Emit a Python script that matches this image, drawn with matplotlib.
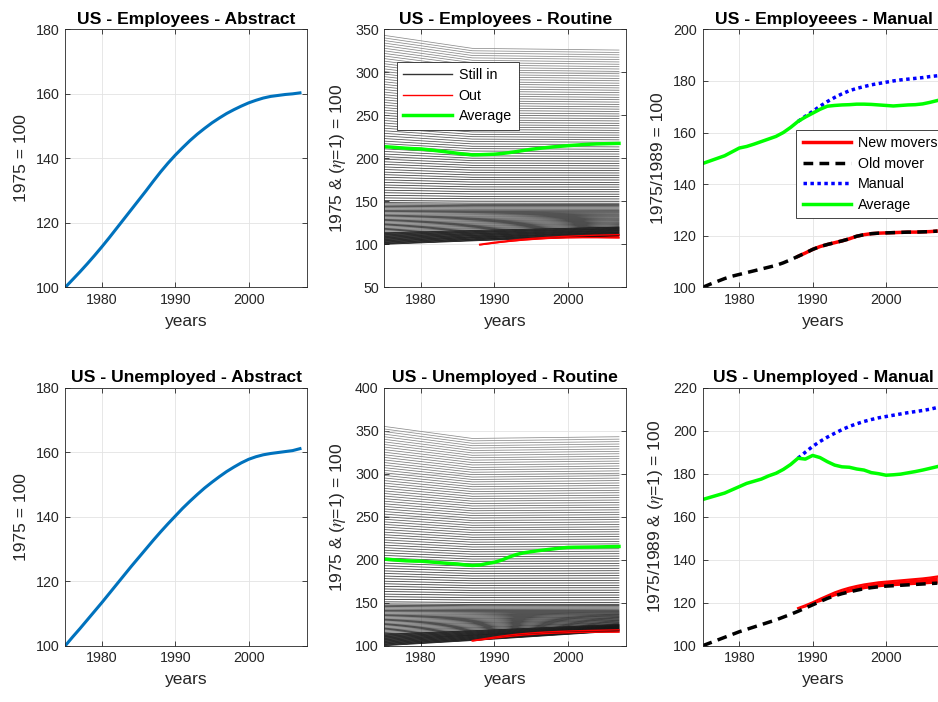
import numpy as np
import matplotlib.pyplot as plt
from matplotlib.lines import Line2D

plt.rcParams['font.family'] = ['Liberation Sans', 'DejaVu Sans']
plt.rcParams['mathtext.fontset'] = 'stix'

# ---------------- data ----------------
years = np.arange(1975, 2008)
years_new = np.arange(1988, 2008)
years_out_emp = np.arange(1988, 2008)
years_out_unemp = np.arange(1987, 2008)
kink_years = [1975, 1987, 2007]

abstract_emp = [100, 102.4, 104.8, 107.3, 109.9, 112.6, 115.4, 118.3, 121.2, 124.1, 127, 129.9,
                132.9, 135.8, 138.5, 141, 143.3, 145.5, 147.5, 149.3, 151, 152.5, 153.9, 155.1,
                156.2, 157.2, 158, 158.7, 159.2, 159.5, 159.8, 160, 160.3]
abstract_unemp = [100, 102.7, 105.3, 108, 110.7, 113.4, 116.2, 119, 121.8, 124.6, 127.3, 130, 132.7,
                  135.3, 137.8, 140.2, 142.6, 144.8, 146.9, 148.9, 150.7, 152.4, 154, 155.4, 156.7,
                  157.8, 158.6, 159.2, 159.6, 159.9, 160.2, 160.5, 161.1]

# routine, "still in" lines: level in 1975, 1987 and 2007, one entry per eta
still_emp_1975 = [
    100, 100.7, 101.4, 102.1, 102.8, 103.5, 104.2, 104.9, 105.6, 106.3, 107, 107.7, 108.4, 109.1,
    109.8, 110.5, 111.2, 111.9, 112.6, 113.3, 114, 115.5, 117, 118.5, 120, 121.5, 123, 124.5, 126,
    127.5, 129, 130.5, 132, 133.5, 135, 136.5, 138, 139.5, 141, 142.5, 144, 145.5, 147, 148.5,
    151, 154, 157, 160, 163, 166, 169, 172, 175, 178, 181, 184, 187, 190, 193, 196, 199, 202, 205,
    208, 211, 214, 217, 220, 223, 226, 229, 232, 235, 238, 241, 244, 247, 250, 253, 256, 259, 262,
    265, 268, 271, 274, 277, 280, 283, 286, 289, 292, 295, 298, 301, 304, 307, 310, 313, 316, 319,
    322, 325, 328, 331, 334, 337, 340, 343]
still_emp_1987 = [
    104, 104.6, 105.3, 105.9, 106.5, 107.2, 107.8, 108.4, 109, 109.7, 110.3, 110.9, 111.6, 112.2,
    112.8, 113.5, 114.1, 114.7, 115.3, 116, 116.6, 118, 119.3, 120.7, 122, 123.4, 124.7, 126.1,
    127.4, 128.8, 130.1, 131.5, 132.8, 134.2, 135.5, 136.9, 138.2, 139.6, 140.9, 142.3, 143.7,
    145.1, 146.5, 147.9,
    150.2, 153, 155.7, 158.5, 161.3, 164.1, 166.8, 169.6, 172.4, 175.2, 177.9, 180.7, 183.5, 186.3,
    189.1, 191.8, 194.6, 197.4, 200.2, 202.9, 205.7, 208.5, 211.3, 214, 216.8, 219.6, 222.4, 225.2,
    227.9, 230.7, 233.5, 236.3, 239, 241.8, 244.6, 247.4, 250.2, 252.9, 255.7, 258.5, 261.3, 264,
    266.8, 269.6, 272.4, 275.1, 277.9, 280.7, 283.5, 286.3, 289, 291.8, 294.6, 297.4, 300.1,
    302.9, 305.7, 308.5, 311.3, 314, 316.8, 319.6, 322.4, 325.1, 327.9]
still_emp_2007 = [
    110, 110.5, 111.1, 111.6, 112.1, 112.6, 113.2, 113.7, 114.2, 114.7, 115.3, 115.8, 116.3, 116.8,
    117.4, 117.9, 118.4, 118.9, 119.5, 120, 120.5, 121.6, 122.8, 123.9, 125, 126.1, 127.3, 128.4,
    129.5, 130.6, 131.8, 132.9, 134, 135.1, 136.3, 137.4, 138.5, 139.6, 140.9, 142.3, 143.7,
    145, 146.4, 147.8,
    150.1, 152.8, 155.6, 158.3, 161.1, 163.8, 166.6, 169.3, 172, 174.8, 177.5, 180.3, 183, 185.8,
    188.5, 191.3, 194, 196.8, 199.5, 202.3, 205, 207.8, 210.5, 213.3, 216, 218.7, 221.5, 224.2,
    227, 229.7, 232.5, 235.2, 238, 240.7, 243.5, 246.2, 249, 251.7, 254.5, 257.2, 259.9, 262.7,
    265.4, 268.2, 270.9, 273.7, 276.4, 279.2, 281.9, 284.7, 287.4, 290.2, 292.9, 295.7, 298.4,
    301.1, 303.9, 306.6, 309.4, 312.1, 314.9, 317.6, 320.4, 323.1, 325.9]

still_unemp_1975 = [
    100, 100.7, 101.4, 102.1, 102.8, 103.5, 104.2, 104.9, 105.6, 106.3, 107, 107.7, 108.4, 109.1,
    109.8, 110.5, 111.2, 111.9, 112.6, 113.3, 114, 115.5, 117, 118.5, 120, 121.5, 123, 124.5, 126,
    127.5, 129, 130.5, 132, 133.5, 135, 136.5, 138, 139.5, 141, 142.5, 144, 145.5, 147, 148.5,
    151, 154, 157, 160, 163, 166, 169, 172, 175, 178, 181, 184, 187, 190, 193, 196, 199, 202, 205,
    208, 211, 214, 217, 220, 223, 226, 229, 232, 235, 238, 241, 244, 247, 250, 253, 256, 259, 262,
    265, 268, 271, 274, 277, 280, 283, 286, 289, 292, 295, 298, 301, 304, 307, 310, 313, 316, 319,
    322, 325, 328, 331, 334, 337, 340, 343, 346, 349, 352, 355]
still_unemp_1987 = [
    106, 106.6, 107.2, 107.8, 108.4, 109, 109.6, 110.2, 110.8, 111.4, 112, 112.5, 113.1, 113.7,
    114.3, 114.9, 115.5, 116.1, 116.7, 117.3, 117.9, 119.2, 120.5, 121.7, 123, 124.3, 125.6, 126.8,
    128.1, 129.4, 130.7, 131.9, 133.2, 134.5, 135.8, 137, 138.3, 139.6, 140.9, 142.3, 143.7,
    145.1, 146.5, 148,
    150.3, 153.1, 155.9, 158.7, 161.5, 164.3, 167.1, 169.9, 172.7, 175.5, 178.3, 181.1, 183.9,
    186.7, 189.5, 192.3, 195.2, 198, 200.8, 203.6, 206.4, 209.2, 212, 214.8, 217.6, 220.4, 223.2,
    226, 228.8, 231.6, 234.4, 237.2, 240, 242.8, 245.6, 248.4, 251.3, 254.1, 256.9, 259.7, 262.5,
    265.3, 268.1, 270.9, 273.7, 276.5, 279.3, 282.1, 284.9, 287.7, 290.5, 293.3, 296.1, 298.9,
    301.7, 304.5, 307.3, 310.2, 313, 315.8, 318.6, 321.4, 324.2, 327, 329.8, 332.6, 335.4, 338.2,
    341]
still_unemp_2007 = [
    117, 117.4, 117.8, 118.2, 118.6, 119, 119.4, 119.8, 120.2, 120.6, 121, 121.4, 121.8, 122.2,
    122.6, 123, 123.4, 123.8, 124.2, 124.7, 125.1, 125.9, 126.8, 127.6, 128.5, 129.4, 130.2, 131.1,
    132, 132.8, 133.7, 134.5, 135.4, 136.3, 137.1, 138, 138.9, 139.7, 141, 142.4, 143.8, 145.2,
    146.6, 148,
    150.4, 153.2, 156.1, 158.9, 161.7, 164.6, 167.4, 170.2, 173, 175.9, 178.7, 181.5, 184.4,
    187.2, 190, 192.9, 195.7, 198.5, 201.4, 204.2, 207, 209.9, 212.7, 215.5, 218.4, 221.2, 224,
    226.9, 229.7, 232.5, 235.4, 238.2, 241, 243.9, 246.7, 249.5, 252.4, 255.2, 258, 260.9, 263.7,
    266.5, 269.4, 272.2, 275, 277.9, 280.7, 283.5, 286.4, 289.2, 292, 294.9, 297.7, 300.5, 303.3,
    306.2, 309, 311.8, 314.7, 317.5, 320.3, 323.2, 326, 328.8, 331.7, 334.5, 337.3, 340.2, 343]

routine_avg_emp = [213.6, 213, 212.3, 211.7, 211.2, 210.9, 210, 209, 208, 207, 205.8, 204.8, 204,
                   204.2, 204.5, 204.8, 205.6, 206.6, 207.8, 209.2, 210.5, 211.5, 212.4, 213.3, 214,
                   214.7, 215.3, 215.9, 216.4, 216.8, 217, 217.2, 217.4]
routine_avg_unemp = [200.7, 200, 199.3, 198.7, 198.4, 198.3, 197.6, 196.9, 196.2, 195.6, 195, 194,
                     193.3, 193.8, 195.5, 197, 199.5, 203, 206, 208, 209.3, 210.5, 211.5, 212.5,
                     213.5, 214.3, 214.5, 214.6, 214.7, 214.8, 215, 215.2, 215.4]

out_emp_hi = [100, 101.2, 102.4, 103.4, 104.4, 105.3, 106.1, 106.8, 107.4, 108, 108.5, 109, 109.4,
              109.8, 110.1, 110.4, 110.7, 110.9, 111.1, 111.3]
out_emp_lo = [99.3, 100.4, 101.5, 102.5, 103.4, 104.2, 105, 105.6, 106.2, 106.7, 107.1, 107.4,
              107.6, 107.7, 107.8, 107.8, 107.8, 107.7, 107.6, 107.5]
out_unemp_hi = [106, 107.3, 108.6, 110, 111.2, 112.3, 113.3, 114.1, 114.8, 115.4, 115.9, 116.3,
                116.7, 117, 117.3, 117.5, 117.7, 117.9, 118.1, 118.3, 118.5]
out_unemp_lo = [105.5, 106.6, 107.7, 108.8, 109.8, 110.8, 111.6, 112.4, 113, 113.6, 114.1, 114.5,
                114.8, 115.1, 115.3, 115.5, 115.6, 115.7, 115.8, 115.8, 115.9]

manual_avg_emp = [148, 149, 150, 151, 152.5, 154, 154.6, 155.5, 156.5, 157.5, 158.5, 160, 162,
                  164.3, 166, 167.5, 169, 170.2, 170.5, 170.7, 170.8, 171, 171, 170.9, 170.7, 170.5,
                  170.3, 170.5, 170.7, 170.8, 171.1, 171.7, 172.4]
manual_emp = [164.3, 166.3, 168.2, 170.2, 172, 173.6, 175, 176.2, 177.1, 177.8, 178.5, 179, 179.5,
              180, 180.4, 180.7, 181, 181.3, 181.7, 182]
old_mover_emp = [100, 101.2, 102.3, 103.4, 104.3, 105, 105.7, 106.4, 107.1, 107.8, 108.5, 109.5,
                 110.7, 112, 113.3, 114.7, 115.8, 116.6, 117.3, 118, 118.8, 119.8, 120.4, 120.8,
                 121, 121.1, 121.2, 121.3, 121.4, 121.4, 121.5, 121.6, 121.8]
new_movers_emp = [112, 113.3, 114.7, 115.8, 116.6, 117.3, 118, 118.8, 119.8, 120.4, 120.8, 121,
                  121.1, 121.2, 121.3, 121.4, 121.4, 121.5, 121.6, 121.8]

manual_avg_unemp = [168, 169, 170, 171, 172.5, 174, 175.5, 176.5, 177.5, 179, 180.2, 182, 184.3,
                    187.2, 186.8, 188.5, 187.5, 185.6, 184, 183.2, 183, 182.2, 181.7, 180.5, 180,
                    179.3, 179.5, 179.8, 180.4, 181, 181.7, 182.5, 183.3]
manual_unemp = [187.2, 190, 192.7, 195, 197, 198.8, 200.5, 202, 203.2, 204.3, 205.2, 206, 206.6,
                207.2, 207.8, 208.4, 208.9, 209.4, 210, 210.8]
old_mover_unemp = [100, 101.3, 102.6, 103.9, 105.2, 106.5, 107.6, 108.7, 109.8, 110.9, 112, 113.3,
                   114.6, 116, 117.5, 119, 120.5, 122, 123.2, 124.2, 125, 125.8, 126.5, 127, 127.4,
                   127.7, 127.9, 128.1, 128.3, 128.5, 128.7, 128.9, 129.1]
new_movers_unemp_hi = [117.5, 118.8, 120.2, 121.8, 123.3, 124.8, 126, 127, 127.8, 128.5, 129, 129.5,
                       129.8, 130.1, 130.4, 130.7, 131, 131.3, 131.7, 132.2]
new_movers_unemp_lo = [117, 118, 119.5, 120.5, 122, 123.2, 124.2, 125, 125.8, 126.5, 127, 127.4,
                       127.7, 127.9, 128.1, 128.3, 128.5, 128.7, 128.9, 129.1]

# ---------------- style ----------------
DARK = '#262626'
BLUE = '#0072BD'
GREEN = '#00FF00'
DOTTED = (0, (1, 1))
DASHED = (0, (2.8, 1.8))

fig = plt.figure(figsize=(9.38, 7.02), dpi=100)

col_left = [0.0696, 0.4097, 0.7491]
row_bottom = [0.5907, 0.0802]
W, H = 0.258, 0.3675


def make_ax(r, c, title, ylabel, ylim, ystep):
    ax = fig.add_axes([col_left[c], row_bottom[r], W, H])
    ax.set_xlim(1975, 2008)
    ax.set_ylim(*ylim)
    ax.set_xticks([1980, 1990, 2000])
    ax.set_yticks(np.arange(ylim[0], ylim[1] + 1, ystep))
    ax.grid(True, color='#e3e3e3', lw=0.6)
    ax.set_axisbelow(True)
    ax.tick_params(direction='in', top=True, right=True, length=3.5, width=0.6,
                   colors=DARK, labelsize=10.3, pad=4)
    for sp in ax.spines.values():
        sp.set_color(DARK)
        sp.set_linewidth(0.6)
    ax.set_title(title, fontsize=12.6, fontweight='bold', pad=4)
    ax.set_xlabel('years', fontsize=12.5, color=DARK, labelpad=5)
    ax.set_ylabel(ylabel, fontsize=12.5, color=DARK, labelpad=5)
    return ax


def routine_panel(ax, s75, s87, s07, out_years, out_lo, out_hi, avg):
    top = max(s75)
    for a, b, c in zip(s75, s87, s07):
        shade = 0.05 + 0.5 * (a - 100) / (top - 100)
        ax.plot(kink_years, [a, b, c], color=str(shade), lw=0.55)
    ax.fill_between(out_years, out_lo, out_hi, color='red', lw=0)
    ax.plot(out_years, out_lo, color='red', lw=1)
    ax.plot(out_years, out_hi, color='red', lw=1)
    ax.plot(years, avg, color=GREEN, lw=2.5)


def legend_box(ax, handles, labels, anchor):
    leg = ax.legend(handles, labels, loc='upper left', bbox_to_anchor=anchor,
                    borderaxespad=0, fontsize=10.3, handlelength=3.4, fancybox=False,
                    framealpha=1, edgecolor=DARK, borderpad=0.45, labelspacing=0.45,
                    handletextpad=0.5)
    leg.get_frame().set_linewidth(0.6)


# abstract
ax = make_ax(0, 0, 'US - Employees - Abstract', '1975 = 100', (100, 180), 20)
ax.plot(years, abstract_emp, color=BLUE, lw=2.2)
ax = make_ax(1, 0, 'US - Unemployed - Abstract', '1975 = 100', (100, 180), 20)
ax.plot(years, abstract_unemp, color=BLUE, lw=2.2)

# routine
ax = make_ax(0, 1, 'US - Employees - Routine', r'1975 & ($\eta$=1) = 100', (50, 350), 50)
routine_panel(ax, still_emp_1975, still_emp_1987, still_emp_2007,
              years_out_emp, out_emp_lo, out_emp_hi, routine_avg_emp)
legend_box(ax, [Line2D([], [], color='0.2', lw=1), Line2D([], [], color='red', lw=1),
                Line2D([], [], color=GREEN, lw=2.5)],
           ['Still in', 'Out', 'Average'], (0.051, 0.874))

ax = make_ax(1, 1, 'US - Unemployed - Routine', r'1975 & ($\eta$=1) = 100', (100, 400), 50)
routine_panel(ax, still_unemp_1975, still_unemp_1987, still_unemp_2007,
              years_out_unemp, out_unemp_lo, out_unemp_hi, routine_avg_unemp)

# manual
ax = make_ax(0, 2, 'US - Employeees - Manual', '1975/1989 = 100', (100, 200), 20)
ax.plot(years_new, new_movers_emp, color='red', lw=2.5)
ax.plot(years, old_mover_emp, color='k', lw=2.5, ls=DASHED)
ax.plot(years_new, manual_emp, color='blue', lw=2.5, ls=DOTTED)
ax.plot(years, manual_avg_emp, color=GREEN, lw=2.5)
legend_box(ax, [Line2D([], [], color='red', lw=2.5),
                Line2D([], [], color='k', lw=2.5, ls=DASHED),
                Line2D([], [], color='blue', lw=2.5, ls=DOTTED),
                Line2D([], [], color=GREEN, lw=2.5)],
           ['New movers', 'Old mover', 'Manual', 'Average'], (0.386, 0.61))

ax = make_ax(1, 2, 'US - Unemployed - Manual', r'1975/1989 & ($\eta$=1) = 100', (100, 220), 20)
ax.fill_between(years_new, new_movers_unemp_lo, new_movers_unemp_hi, color='red', lw=0)
ax.plot(years_new, new_movers_unemp_hi, color='red', lw=1.5)
ax.plot(years, old_mover_unemp, color='k', lw=2.5, ls=DASHED)
ax.plot(years_new, manual_unemp, color='blue', lw=2.5, ls=DOTTED)
ax.plot(years, manual_avg_unemp, color=GREEN, lw=2.5)

fig.savefig('out.png', dpi=100)
